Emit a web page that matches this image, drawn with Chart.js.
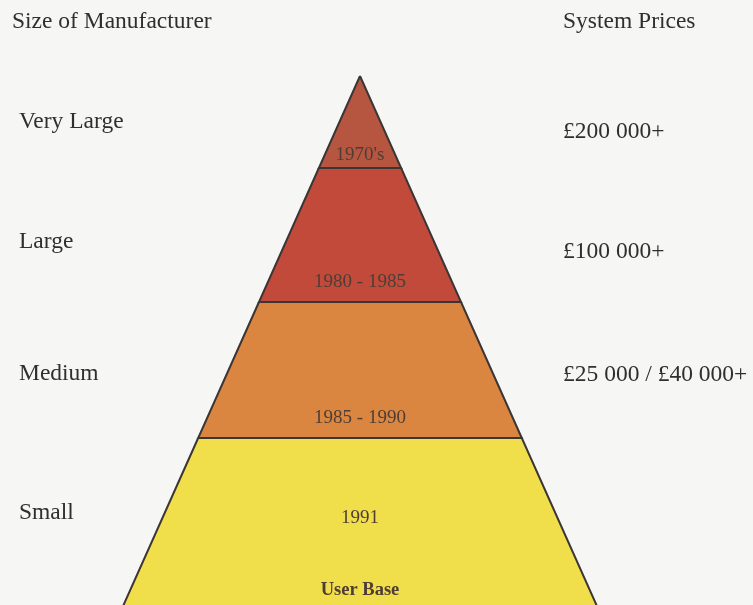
<!DOCTYPE html>
<html>
<head>
<meta charset="utf-8">
<script src="https://cdn.jsdelivr.net/npm/chart.js@4"></script>
<style>
  html, body { margin: 0; padding: 0; background: #f6f6f4; }
  #wrap { width: 753px; height: 605px; }
</style>
</head>
<body>
<div id="wrap"><canvas id="pyramid" width="753" height="605"></canvas></div>
<script>
// layers, top of the pyramid first
const manufacturerSizes = ['Very Large', 'Large', 'Medium', 'Small'];
const periods = ["1970's", '1980 - 1985', '1985 - 1990', '1991'];
const systemPrices = ['£200 000+', '£100 000+', '£25 000 / £40 000+', ''];
// depth of each layer boundary below the apex (pyramid units)
const layerDepths = [0, 0.92, 2.26, 3.62, 5.32];
const baseLabel = 'User Base';

const layerColors = ['#b65640', '#c24a3a', '#da8640', '#f1de4b'];
const halfWidthPerDepth = 0.447;
const serif = '"Liberation Serif", "Times New Roman", serif';

// pixel nudges for the text rows (layout only)
const leftNudge = [0, 7, 4, -9];
const rightNudge = [10, 17, 5, 0];
const periodLift = [13, 20, 20, null];

function layerShape(i) {
    const top = layerDepths[i];
    const bottom = layerDepths[i + 1];
    return [
        { x: -halfWidthPerDepth * top, y: top },
        { x: halfWidthPerDepth * top, y: top },
        { x: halfWidthPerDepth * bottom, y: bottom },
        { x: -halfWidthPerDepth * bottom, y: bottom },
        { x: -halfWidthPerDepth * top, y: top }
    ];
}

const datasets = periods.map((p, i) => ({
    label: p,
    data: layerShape(i),
    showLine: true,
    fill: 'shape',
    backgroundColor: layerColors[i],
    borderColor: '#3b3535',
    borderWidth: 2,
    borderJoinStyle: 'miter',
    pointRadius: 0,
    tension: 0
}));

const textPlugin = {
    id: 'pyramidText',
    afterDatasetsDraw(chart) {
        const ctx = chart.ctx;
        const xs = chart.scales.x;
        const ys = chart.scales.y;
        ctx.save();
        ctx.textBaseline = 'middle';

        // column headers
        ctx.fillStyle = '#2f2f2f';
        ctx.font = '23.5px ' + serif;
        ctx.textAlign = 'left';
        ctx.fillText('Size of Manufacturer', 12, 22);
        ctx.fillText('System Prices', 563, 22);

        manufacturerSizes.forEach((name, i) => {
            const top = ys.getPixelForValue(layerDepths[i]);
            const bottom = Math.min(ys.getPixelForValue(layerDepths[i + 1]), chart.chartArea.bottom);
            const mid = (top + bottom) / 2;
            ctx.fillStyle = '#2f2f2f';
            ctx.font = '23.5px ' + serif;
            ctx.textAlign = 'left';
            ctx.fillText(name, 19, mid + leftNudge[i]);
            if (systemPrices[i]) ctx.fillText(systemPrices[i], 563, mid + rightNudge[i]);

            // period inside the layer
            ctx.fillStyle = '#4e3d34';
            ctx.font = '19px ' + serif;
            ctx.textAlign = 'center';
            const cx = xs.getPixelForValue(0);
            const py = periodLift[i] === null ? mid - 3 : bottom - periodLift[i];
            ctx.fillText(periods[i], cx, py);
        });

        ctx.fillStyle = '#4e3d34';
        ctx.font = 'bold 18.5px ' + serif;
        ctx.textAlign = 'center';
        ctx.fillText(baseLabel, xs.getPixelForValue(0), chart.chartArea.bottom - 15);
        ctx.restore();
    }
};

new Chart(document.getElementById('pyramid'), {
    type: 'scatter',
    data: { datasets },
    options: {
        responsive: false,
        animation: false,
        layout: { padding: 0 },
        plugins: {
            legend: { display: false },
            tooltip: { enabled: false }
        },
        scales: {
            x: { type: 'linear', min: -3.60, max: 3.93, display: false },
            y: { type: 'linear', min: -0.76, max: 5.29, reverse: true, display: false }
        }
    },
    plugins: [textPlugin]
});
</script>
</body>
</html>
